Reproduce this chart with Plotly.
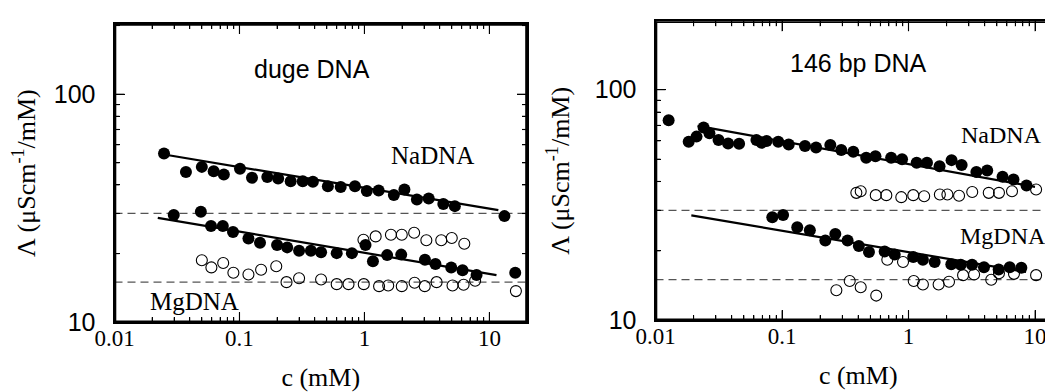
import numpy as np
import plotly.graph_objects as go

W, H = 1053, 392

# --- duge DNA (left panel) ---
na_duge_x = [0.0249, 0.0373, 0.050, 0.0622, 0.075, 0.101, 0.126, 0.167, 0.204, 0.257, 0.321, 0.387,
             0.51, 0.646, 0.84, 1.045, 1.30, 1.72, 2.09, 2.63, 3.27, 4.28, 5.29, 13.2]
na_duge_y = [54.9, 45.6, 48.0, 45.9, 44.4, 47.1, 43.0, 43.3, 42.7, 41.5, 41.5, 41.3,
             39.5, 39.2, 39.5, 37.6, 37.8, 36.1, 38.2, 34.5, 34.9, 33.0, 32.3, 29.2]
mg_duge_x = [0.0298, 0.0491, 0.0592, 0.0736, 0.0888, 0.118, 0.146, 0.200, 0.241, 0.300, 0.373, 0.450,
             0.600, 0.794, 1.02, 1.17, 1.52, 1.97, 3.05, 3.7, 4.95, 6.1, 7.9, 16.1]
mg_duge_y = [29.5, 30.5, 26.4, 26.4, 24.9, 23.3, 22.3, 21.8, 21.3, 20.6, 20.6, 20.3,
             20.1, 20.1, 21.8, 18.5, 19.7, 19.8, 18.8, 18.0, 17.4, 16.9, 16.1, 16.5]
na_open_duge_x = [0.982, 1.23, 1.63, 1.99, 2.50, 3.13, 4.12, 5.00, 6.30]
na_open_duge_y = [23.0, 23.8, 24.2, 24.2, 24.7, 22.9, 22.9, 23.4, 22.1]
mg_open_duge_x = [0.050, 0.0596, 0.0741, 0.0894, 0.118, 0.149, 0.197, 0.238, 0.300, 0.450, 0.600, 0.746,
                  0.988, 1.31, 1.55, 1.99, 2.52, 3.04, 3.78, 5.07, 6.22, 7.69, 16.3]
mg_open_duge_y = [18.7, 17.4, 18.2, 16.5, 16.2, 17.0, 17.6, 15.0, 15.6, 15.4, 14.7, 14.7,
                  14.7, 14.4, 14.5, 14.4, 14.9, 14.4, 15.0, 14.5, 14.6, 15.2, 13.7]
na_fit_duge_x, na_fit_duge_y = [0.025, 11.8], [54.4, 31.0]
mg_fit_duge_x, mg_fit_duge_y = [0.0222, 11.4], [28.7, 16.1]

# --- 146 bp DNA (right panel) ---
na_146_x = [0.0127, 0.0183, 0.0211, 0.0240, 0.0267, 0.0315, 0.0375, 0.0458, 0.0628, 0.0689, 0.0756,
            0.0934, 0.113, 0.152, 0.186, 0.241, 0.294, 0.366, 0.463, 0.548, 0.729, 0.889, 1.16, 1.40,
            1.76, 2.19, 2.63, 3.44, 4.19, 5.54, 6.76, 8.57]
na_146_y = [73.7, 59.5, 62.6, 68.5, 64.7, 60.5, 58.5, 58.3, 60.5, 58.9, 59.9,
            59.5, 57.9, 57.0, 56.1, 57.6, 54.8, 53.8, 50.7, 51.5, 50.7, 49.9, 48.2, 48.2,
            46.6, 49.5, 47.1, 44.0, 44.6, 41.9, 40.8, 38.4]
mg_146_x = [0.0838, 0.102, 0.132, 0.166, 0.220, 0.264, 0.33, 0.405, 0.487, 0.648, 0.778, 1.09, 1.30,
            1.61, 2.18, 2.59, 3.18, 3.95, 5.16, 6.31, 7.80]
mg_146_y = [28.0, 28.6, 25.3, 24.6, 22.2, 23.7, 22.2, 21.0, 19.8, 19.9, 19.3, 18.8, 18.3,
            17.9, 17.5, 17.4, 17.4, 17.0, 16.6, 17.0, 16.9]
na_open_146_x = [0.387, 0.419, 0.551, 0.668, 0.877, 1.09, 1.33, 1.77, 2.03, 2.51, 3.19, 4.31, 5.19, 6.58, 10.2]
na_open_146_y = [35.7, 36.3, 34.9, 34.9, 34.2, 34.9, 34.5, 35.1, 35.1, 34.7, 36.0, 35.7, 35.7, 36.3, 36.9]
mg_open_146_x = [0.269, 0.343, 0.419, 0.556, 0.680, 0.905, 1.10, 1.30, 1.73, 2.09, 2.70, 3.30, 4.51, 5.19, 6.82, 10.2]
mg_open_146_y = [13.5, 14.8, 13.9, 12.8, 18.3, 17.9, 14.8, 14.3, 14.3, 14.7, 15.7, 15.8, 15.0, 16.0, 15.9, 15.7]
na_fit_146_x, na_fit_146_y = [0.0215, 10.0], [69.7, 37.9]
mg_fit_146_x, mg_fit_146_y = [0.0192, 8.5], [28.5, 16.2]

ref_levels = [30, 15]

SERIF = "Liberation Serif"
SANS = "Liberation Sans"

# panel geometry (log ranges, domains)
left = dict(xa="x", ya="y", xr=[-2, np.log10(20)], yr=[1, np.log10(203)],
            xdom=[106.5 / W, 519 / W], ydom=[(H - 314.3) / H, (H - 16) / H], right_border=True)
right = dict(xa="x2", ya="y2", xr=[-2, -2 + (W - 647.5) / 126.5], yr=[1, np.log10(198)],
             xdom=[647.5 / W, 1.0], ydom=[(H - 312.3) / H, (H - 13.3) / H], right_border=False)

MAJOR_LEN, MINOR_LEN = 10, 5

fig = go.Figure()


def log_ticks(r):
    out = []
    for k in range(int(np.floor(r[0])), int(np.ceil(r[1])) + 1):
        for m in range(1, 10):
            lv = np.log10(m * 10.0 ** k)
            if r[0] - 1e-9 <= lv <= r[1] + 1e-9:
                out.append((lv, m == 1))
    return out


def seg(p, xs, ys, color="black", width=2.0, dash=None):
    fig.add_trace(go.Scatter(x=list(xs), y=list(ys), mode="lines",
                             xaxis=p["xa"], yaxis=p["ya"], hoverinfo="skip", cliponaxis=False,
                             line=dict(color=color, width=width, dash=dash)))


def add_ref_lines(p):
    for lv in ref_levels:
        seg(p, [10 ** p["xr"][0], 10 ** p["xr"][1]], [lv, lv], color="#555555", width=1.3, dash="8px,5px")


def add_panel(p, na_x, na_y, mg_x, mg_y, nao_x, nao_y, mgo_x, mgo_y, fits):
    xa, ya = p["xa"], p["ya"]
    for ox, oy in [(nao_x, nao_y), (mgo_x, mgo_y)]:
        fig.add_trace(go.Scatter(x=ox, y=oy, mode="markers", xaxis=xa, yaxis=ya,
                                 marker=dict(symbol="circle-open", size=11, color="black",
                                             line=dict(width=1.1, color="black"))))
    for fx, fy in fits:
        fig.add_trace(go.Scatter(x=fx, y=fy, mode="lines", xaxis=xa, yaxis=ya,
                                 line=dict(color="black", width=2.2)))
    for fx, fy in [(na_x, na_y), (mg_x, mg_y)]:
        fig.add_trace(go.Scatter(x=fx, y=fy, mode="markers", xaxis=xa, yaxis=ya,
                                 marker=dict(symbol="circle", size=12, color="black")))


def add_frame(p):
    # box edges as short line traces just inside the plot area, ticks as line markers
    xr, yr = p["xr"], p["yr"]
    dx = (xr[1] - xr[0]) / ((p["xdom"][1] - p["xdom"][0]) * W)
    dy = (yr[1] - yr[0]) / ((p["ydom"][1] - p["ydom"][0]) * H)
    xs = [10 ** xr[0], 10 ** xr[1]]
    ys = [10 ** yr[0], 10 ** yr[1]]
    seg(p, xs, [10 ** (yr[0] + 0.8 * dy)] * 2)
    seg(p, xs, [10 ** (yr[1] - 0.8 * dy)] * 2)
    seg(p, [10 ** (xr[0] + 0.8 * dx)] * 2, ys)
    if p["right_border"]:
        seg(p, [10 ** (xr[1] - 0.8 * dx)] * 2, ys)

    tx, ty, ts, tsym = [], [], [], []
    for lv, major in log_ticks(xr):
        L = MAJOR_LEN if major else MINOR_LEN
        for ypos in (yr[0] + L / 2 * dy, yr[1] - L / 2 * dy):
            tx.append(10 ** lv); ty.append(10 ** ypos); ts.append(L / 1.4); tsym.append("line-ns")
    for lv, major in log_ticks(yr):
        L = MAJOR_LEN if major else MINOR_LEN
        xpos_list = [xr[0] + L / 2 * dx]
        if p["right_border"]:
            xpos_list.append(xr[1] - L / 2 * dx)
        for xpos in xpos_list:
            tx.append(10 ** xpos); ty.append(10 ** lv); ts.append(L / 1.4); tsym.append("line-ew")
    fig.add_trace(go.Scatter(x=tx, y=ty, mode="markers", xaxis=p["xa"], yaxis=p["ya"],
                             hoverinfo="skip", cliponaxis=False,
                             marker=dict(symbol=tsym, size=ts, color="black",
                                         line=dict(width=1.2, color="black"))))


add_ref_lines(left)
add_ref_lines(right)
add_panel(left, na_duge_x, na_duge_y, mg_duge_x, mg_duge_y,
          na_open_duge_x, na_open_duge_y, mg_open_duge_x, mg_open_duge_y,
          [(na_fit_duge_x, na_fit_duge_y), (mg_fit_duge_x, mg_fit_duge_y)])
add_panel(right, na_146_x, na_146_y, mg_146_x, mg_146_y,
          na_open_146_x, na_open_146_y, mg_open_146_x, mg_open_146_y,
          [(na_fit_146_x, na_fit_146_y), (mg_fit_146_x, mg_fit_146_y)])
add_frame(left)
add_frame(right)


def xaxis_style(p):
    return dict(type="log", domain=p["xdom"], range=p["xr"], anchor=p["ya"],
                tickmode="linear", tick0=0, dtick=1,
                ticks="inside", ticklen=MAJOR_LEN, tickwidth=1, tickcolor="#000000",
                minor=dict(ticks="inside", ticklen=MINOR_LEN, tickwidth=1, tickcolor="#000000", dtick="D1"),
                showline=True, linecolor="#000000", linewidth=2, mirror="allticks",
                showgrid=False, zeroline=False,
                tickfont=dict(family=SERIF, size=23, color="black"),
                ticklabelstandoff=-6,
                title=dict(text="c (mM)", font=dict(family=SERIF, size=26, color="black"), standoff=18))


def yaxis_style(p):
    return dict(type="log", domain=p["ydom"], range=p["yr"], anchor=p["xa"],
                tickmode="linear", tick0=0, dtick=1,
                ticks="inside", ticklen=MAJOR_LEN, tickwidth=1, tickcolor="#000000",
                minor=dict(ticks="inside", ticklen=MINOR_LEN, tickwidth=1, tickcolor="#000000", dtick="D1"),
                showline=True, linecolor="#000000", linewidth=2,
                mirror="allticks" if p["right_border"] else False,
                showgrid=False, zeroline=False,
                tickfont=dict(family=SANS, size=25, color="black"),
                ticklabelstandoff=12,
                title=dict(text="\u039b (\u03bcScm<sup>-1</sup>/mM)",
                           font=dict(family=SERIF, size=26, color="black"), standoff=18))


fig.update_layout(
    width=W, height=H,
    margin=dict(l=0, r=0, t=0, b=0, autoexpand=False),
    paper_bgcolor="white", plot_bgcolor="white",
    showlegend=False,
    xaxis=xaxis_style(left), yaxis=yaxis_style(left),
    xaxis2=xaxis_style(right), yaxis2=yaxis_style(right),
)

labels = [
    ("duge DNA", 304, 61, SANS, 25, "center"),
    ("NaDNA", 381, 147, SERIF, 25, "left"),
    ("MgDNA", 140, 293, SERIF, 25, "left"),
    ("146 bp DNA", 850, 55, SANS, 25, "center"),
    ("NaDNA", 951, 127, SERIF, 24, "left"),
    ("MgDNA", 950, 228, SERIF, 24, "left"),
]
for text, px_, py_, fam, sz, anc in labels:
    fig.add_annotation(text=text, x=px_ / W, y=1 - py_ / H, xref="paper", yref="paper",
                       showarrow=False, xanchor=anc, yanchor="middle",
                       font=dict(family=fam, size=sz, color="black"))

fig.write_html("out.html")
